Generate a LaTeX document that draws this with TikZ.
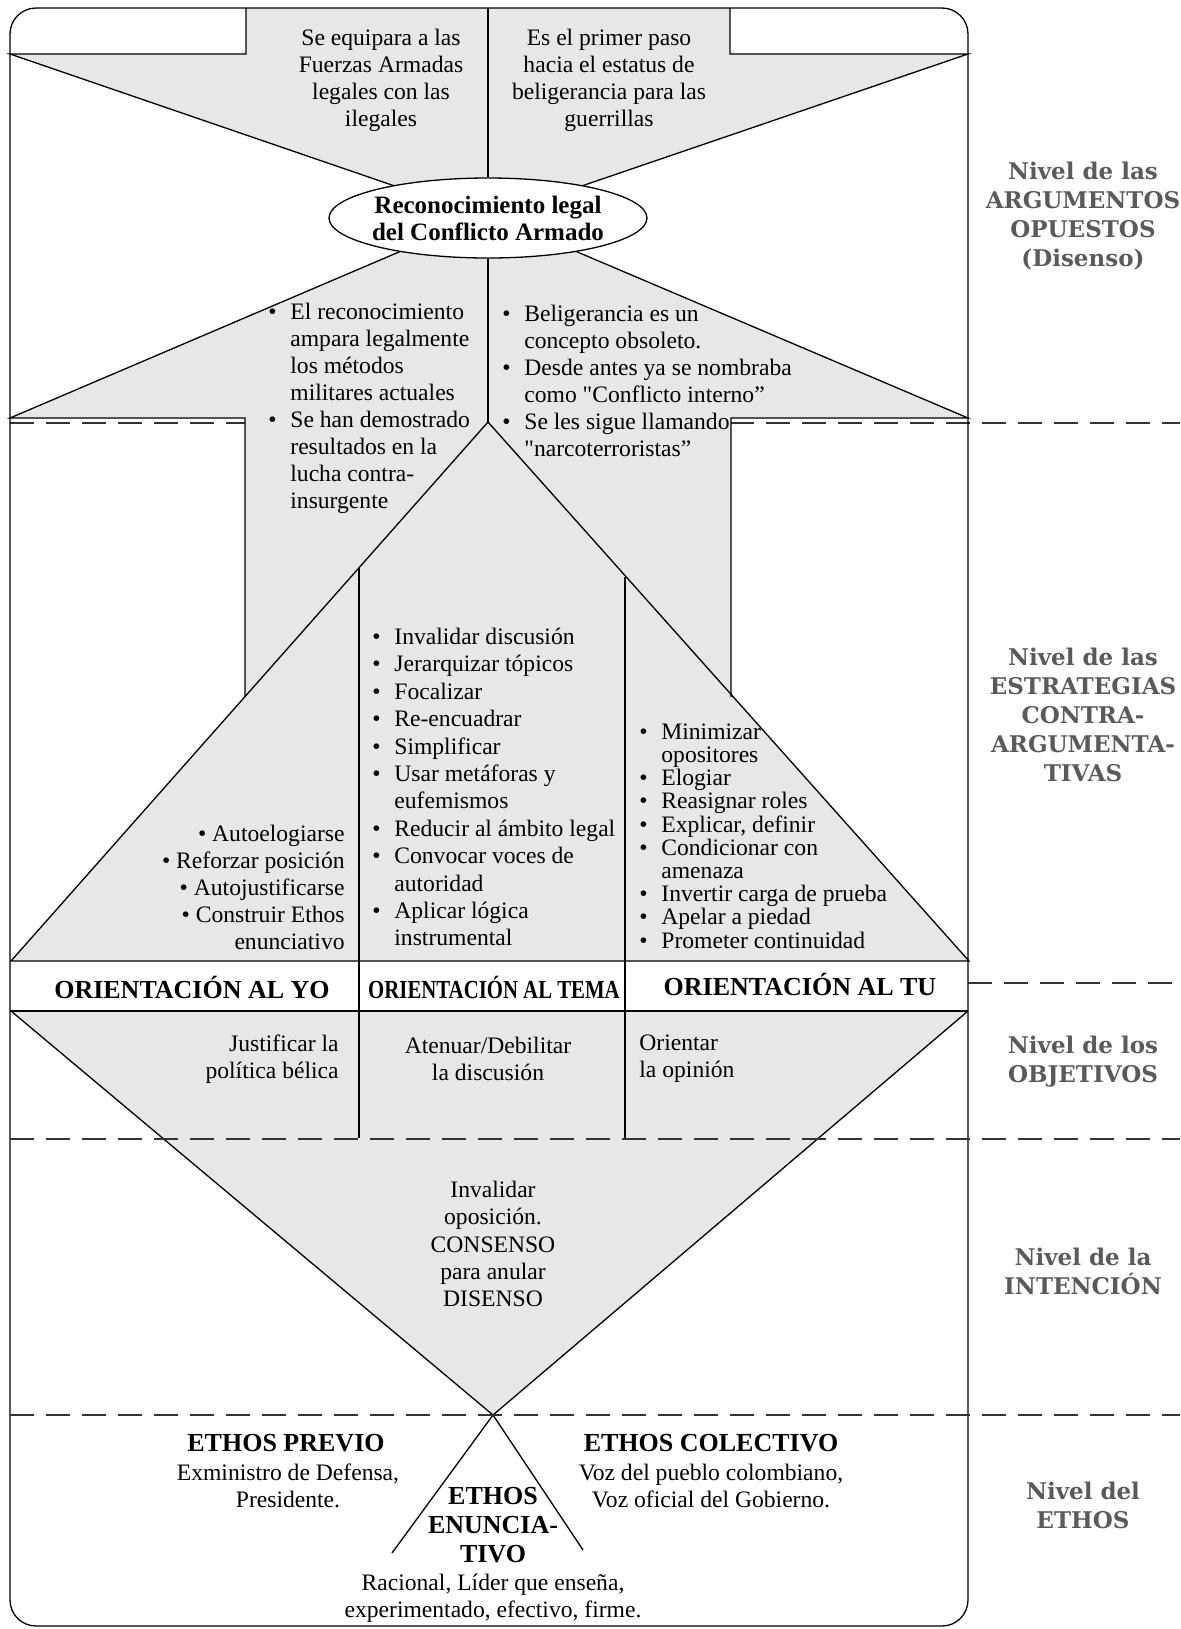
\documentclass[tikz,border=0pt]{standalone}
\usepackage{fontspec}
\setmainfont{Liberation Serif}[Ligatures=TeXOff]
\newfontfamily\levelfont{DejaVu Serif}
\usetikzlibrary{shapes.geometric}
\definecolor{panelgray}{RGB}{230,231,232}
\definecolor{levelgray}{RGB}{90,90,92}
\newcommand{\itm}{\makebox[11pt][l]{\textbullet}}
\newcommand{\cnt}{\hspace*{11pt}}

\begin{document}
\begin{tikzpicture}[x=0.5pt, y=-0.5pt,
  panel/.style={fill=panelgray},
  edge/.style={draw=black, line width=0.65pt},
  levelsep/.style={draw=black!80, line width=1.1pt, dash pattern=on 12pt off 6pt},
  txt/.style={font=\fontsize{11.8}{13.5}\selectfont, inner sep=0pt, align=center},
  list/.style={txt, align=left, anchor=west},
  head/.style={font=\fontsize{13}{14.7}\selectfont\bfseries, inner sep=0pt, align=center},
  level/.style={font=\levelfont\bfseries\fontsize{11.5}{14.5}\selectfont, text=levelgray, inner sep=0pt, align=center},
]
\useasboundingbox (0,0) rectangle (1180,1629);

% --- level separators (behind the shapes) ---
\draw[levelsep] (10,423) -- (1180,423);
\draw[levelsep] (968,983) -- (1180,983);

% --- grey areas ---
\fill[panel] (246,8) -- (730,8) -- (730,54) -- (968,54) -- (488,218) -- (10,54) -- (246,54) -- cycle;
\fill[panel] (10,418) -- (488,214) -- (968,418) -- (731,418) -- (731,697) -- (245,697) -- (245,418) -- cycle;
\fill[panel] (488,422) -- (969,961) -- (11,961) -- cycle;
\fill[panel] (11,1011) -- (968,1011) -- (493,1415) -- cycle;

% --- outlines ---
\draw[edge] (246,8) -- (246,54) -- (10,54) -- (488,218) -- (968,54) -- (730,54) -- (730,8);
\draw[edge] (245,697) -- (245,418) -- (10,418) -- (488,214) -- (968,418) -- (731,418) -- (731,697);
\draw[edge] (488,422) -- (969,961) -- (11,961) -- cycle;
\draw[edge] (10,1011) -- (968,1011);
\draw[edge] (11,1011) -- (493,1415) -- (968,1011);
\draw[edge] (359,568) -- (359,1138);
\draw[edge] (625,577) -- (625,1138);
\draw[edge] (392,1553) -- (493,1415) -- (583,1550);

% --- frame ---
\draw[edge, rounded corners=13pt] (10,8) rectangle (968,1626);

% --- central topic ---
\coordinate (topmid) at (488,8);
\coordinate (pyrtop) at (488,422);
\node[ellipse, edge, fill=white, minimum width=159pt, minimum height=40pt, inner sep=0pt] (recon) at (488,218) {};
\draw[edge] (topmid) -- (recon.north);
\draw[edge] (recon.south) -- (pyrtop);
\node[head, font=\fontsize{12.5}{13.5}\selectfont\bfseries] (recontxt) at (recon) {Reconocimiento legal\\del Conflicto Armado};

% --- lower separators (over the shapes) ---
\draw[levelsep] (10,1139) -- (1180,1139);
\draw[levelsep] (10,1415) -- (1180,1415);

% --- opposed arguments ---
\node[txt] (argA) at (381,80) {Se equipara a las\\Fuerzas Armadas\\legales con las\\ilegales};
\node[txt] (argB) at (609,80) {Es el primer paso\\hacia el estatus de\\beligerancia para las\\guerrillas};
\node[list] (argL) at (268,408) {\itm El reconocimiento\\\cnt ampara legalmente\\\cnt los métodos\\\cnt militares actuales\\\itm Se han demostrado\\\cnt resultados en la\\\cnt lucha contra-\\\cnt insurgente};
\node[list] (argR) at (502,381) {\itm Beligerancia es un\\\cnt concepto obsoleto.\\\itm Desde antes ya se nombraba\\\cnt como "Conflicto interno”\\\itm Se les sigue llamando\\\cnt "narcoterroristas”};

% --- strategies ---
\node[txt, align=right, anchor=east] (stratYo) at (345,887) {\textbullet~Autoelogiarse\\\textbullet~Reforzar posición\\\textbullet~Autojustificarse\\\textbullet~Construir Ethos\\enunciativo};
\node[list, font=\fontsize{11.8}{13.7}\selectfont] (stratTema) at (372,787) {\itm Invalidar discusión\\\itm Jerarquizar tópicos\\\itm Focalizar\\\itm Re-encuadrar\\\itm Simplificar\\\itm Usar metáforas y\\\cnt eufemismos\\\itm Reducir al ámbito legal\\\itm Convocar voces de\\\cnt autoridad\\\itm Aplicar lógica\\\cnt instrumental};
\node[list, font=\fontsize{11.8}{11.6}\selectfont] (stratTu) at (639,836) {\itm Minimizar\\\cnt opositores\\\itm Elogiar\\\itm Reasignar roles\\\itm Explicar, definir\\\itm Condicionar con\\\cnt amenaza\\\itm Invertir carga de prueba\\\itm Apelar a piedad\\\itm Prometer continuidad};

% --- orientations ---
\node[head] (oriYo) at (192,987) {ORIENTACIÓN AL YO};
\node[head] (oriTema) at (494,987) {\scalebox{0.8}[1]{ORIENTACIÓN AL TEMA}};
\node[head] (oriTu) at (800,984) {ORIENTACIÓN AL TU};

% --- objectives ---
\node[txt, align=right, anchor=east] (objYo) at (339,1059) {Justificar la\\política bélica};
\node[txt] (objTema) at (488,1059) {Atenuar/Debilitar\\la discusión};
\node[txt, align=left, anchor=west] (objTu) at (639,1059) {Orientar\\la opinión};

% --- intention ---
\node[txt, font=\fontsize{11.8}{13.6}\selectfont] (intent) at (493,1244) {Invalidar\\oposición.\\CONSENSO\\para anular\\DISENSO};

% --- ethos ---
\node[head] (ethPrev) at (286,1443) {ETHOS PREVIO};
\node[txt] (ethPrevTxt) at (288,1486) {Exministro de Defensa,\\Presidente.};
\node[head] (ethCol) at (711,1443) {ETHOS COLECTIVO};
\node[txt] (ethColTxt) at (711,1486) {Voz del pueblo colombiano,\\Voz oficial del Gobierno.};
\node[head] (ethEnun) at (493,1525) {ETHOS\\ENUNCIA-\\TIVO};
\node[txt] (ethEnunTxt) at (493,1598) {Racional, Líder que enseña,\\experimentado, efectivo, firme.};

% --- level names ---
\node[level] (lvArg) at (1083,216) {Nivel de las\\ARGUMENTOS\\OPUESTOS\\(Disenso)};
\node[level] (lvStrat) at (1083,715) {Nivel de las\\ESTRATEGIAS\\CONTRA-\\ARGUMENTA-\\TIVAS};
\node[level] (lvObj) at (1083,1062) {Nivel de los\\OBJETIVOS};
\node[level] (lvInt) at (1083,1271) {Nivel de la\\INTENCIÓN};
\node[level] (lvEth) at (1083,1505) {Nivel del\\ETHOS};
\end{tikzpicture}
\end{document}
